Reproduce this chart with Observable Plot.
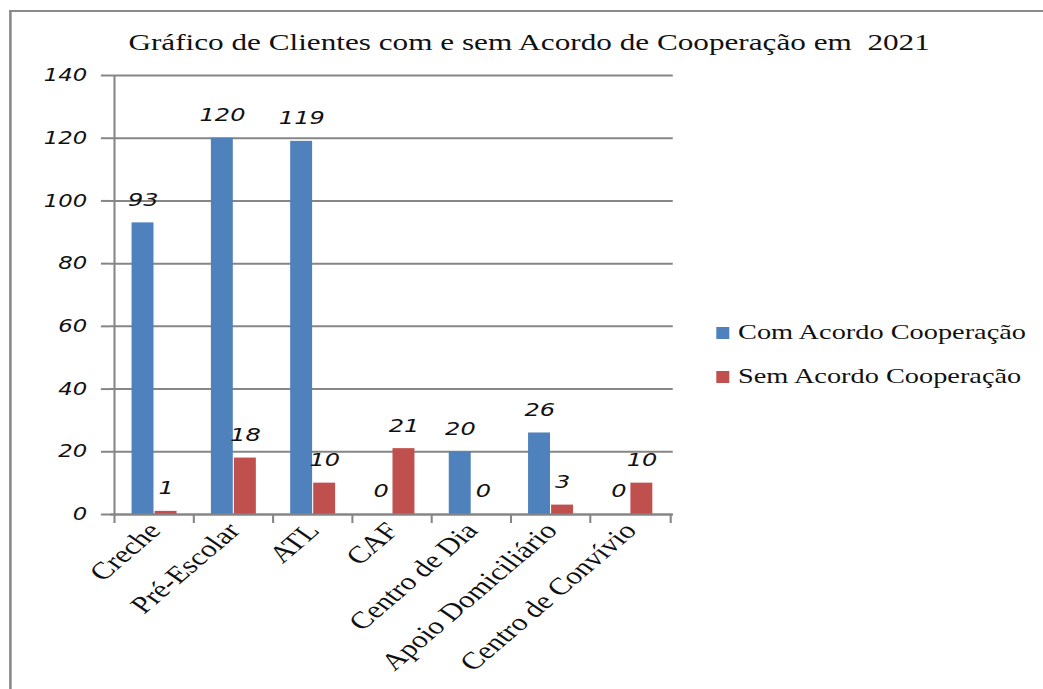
<!DOCTYPE html>
<html>
<head>
<meta charset="utf-8">
<script src="https://cdn.jsdelivr.net/npm/d3@7"></script>
<script src="https://cdn.jsdelivr.net/npm/@observablehq/plot@0.6"></script>
<style>
  html, body { margin: 0; padding: 0; background: #fff; width: 1043px; height: 689px; overflow: hidden; }
  #stage { position: absolute; left: 0; top: 0; width: 802px; height: 689px; transform: scale(1.3, 1); transform-origin: 0 0; }
  #border { position: absolute; left: 7.2px; top: 10px; width: 900px; height: 900px; border-left: 2.3px solid #8a8a8a; border-top: 2.5px solid #8a8a8a; }
  #title { position: absolute; left: 0; width: 814px; top: 30px; text-align: center; font-family: "Liberation Serif", serif; font-size: 24px; line-height: 24px; color: #111; white-space: pre; }
  #chart { position: absolute; left: 0; top: 0; }
  .leg { position: absolute; font-family: "Liberation Serif", serif; font-size: 21.8px; line-height: 22px; color: #111; white-space: nowrap; }
  .sw { position: absolute; width: 10px; height: 12px; }
</style>
</head>
<body>
<div id="stage">
  <div id="border"></div>
  <div id="title"></div>
  <div id="chart"></div>
  <div id="legend"></div>
</div>
<script>
const title = "Gráfico de Clientes com e sem Acordo de Cooperação em  2021";
const categories = ["Creche", "Pré-Escolar", "ATL", "CAF", "Centro de Dia", "Apoio Domiciliário", "Centro de Convívio"];
const comAcordo = [93, 120, 119, 0, 20, 26, 0];
const semAcordo = [1, 18, 10, 21, 0, 3, 10];
const seriesNames = ["Com Acordo Cooperação", "Sem Acordo Cooperação"];
const seriesColors = ["#4F81BD", "#C0504D"];
const yTicks = [0, 20, 40, 60, 80, 100, 120, 140];

document.getElementById("title").textContent = title;

const rows = categories.map((c, i) => ({cat: c, com: comAcordo[i], sem: semAcordo[i]}));

const W = 560, H = 689;
const mL = 84.6, mR = W - 517.5, mT = 75, mB = H - 514;
const bw = (W - mL - mR) / categories.length;
const half = bw / 2;
const inset = 13.2;
const barW = half - inset;
const gray = "#868686";

const chart = Plot.plot({
  width: W, height: H,
  marginLeft: mL, marginRight: mR, marginTop: mT, marginBottom: mB,
  style: {background: "transparent", overflow: "visible"},
  x: {domain: categories, padding: 0, axis: null},
  y: {domain: [0, 140], axis: null},
  marks: [
    Plot.gridY({ticks: yTicks, stroke: gray, strokeOpacity: 1, strokeWidth: 2}),
    Plot.ruleX([categories[0]], {x: d => d, dx: -half, y1: 0, y2: 140, stroke: gray, strokeWidth: 1.6}),
    Plot.axisY({ticks: yTicks, tickSize: 7, tickPadding: 11, stroke: gray, strokeWidth: 2, strokeOpacity: 1,
      fontFamily: "DejaVu Sans", fontStyle: "italic", fontSize: 17.5, fill: "#111", label: null}),
    Plot.axisX({ticks: categories, tickSize: 9, dx: -half, tickFormat: () => "", stroke: gray, strokeWidth: 1.6, strokeOpacity: 1, label: null}),
    Plot.axisX({ticks: [categories[categories.length - 1]], tickSize: 9, dx: half, tickFormat: () => "", stroke: gray, strokeWidth: 1.6, strokeOpacity: 1, label: null}),
    Plot.axisX({ticks: categories, tickSize: 0, tickPadding: 12, tickRotate: -48, fontFamily: "Liberation Serif", fontSize: 24, fill: "#111", label: null}),
    Plot.barY(rows, {x: "cat", y: "com", fill: seriesColors[0], insetLeft: inset, insetRight: half}),
    Plot.barY(rows, {x: "cat", y: "sem", fill: seriesColors[1], insetLeft: half, insetRight: inset}),
    Plot.ruleY([0], {stroke: gray, strokeWidth: 2}),
    Plot.text(rows, {x: "cat", y: "com", text: d => String(d.com), dx: -barW / 2, dy: -23,
      fontFamily: "DejaVu Sans", fontStyle: "italic", fontSize: 18.5, fill: "#111"}),
    Plot.text(rows, {x: "cat", y: "sem", text: d => String(d.sem), dx: barW / 2, dy: -23,
      fontFamily: "DejaVu Sans", fontStyle: "italic", fontSize: 18.5, fill: "#111"})
  ]
});
document.getElementById("chart").appendChild(chart);

const legend = document.getElementById("legend");
const legTops = [327, 371];
seriesNames.forEach((name, i) => {
  const sw = document.createElement("div");
  sw.className = "sw";
  sw.style.left = (716 / 1.3) + "px";
  sw.style.top = legTops[i] + "px";
  sw.style.background = seriesColors[i];
  legend.appendChild(sw);
  const t = document.createElement("div");
  t.className = "leg";
  t.style.left = (738 / 1.3) + "px";
  t.style.top = (legTops[i] - 6.3) + "px";
  t.textContent = name;
  legend.appendChild(t);
});
</script>
</body>
</html>
